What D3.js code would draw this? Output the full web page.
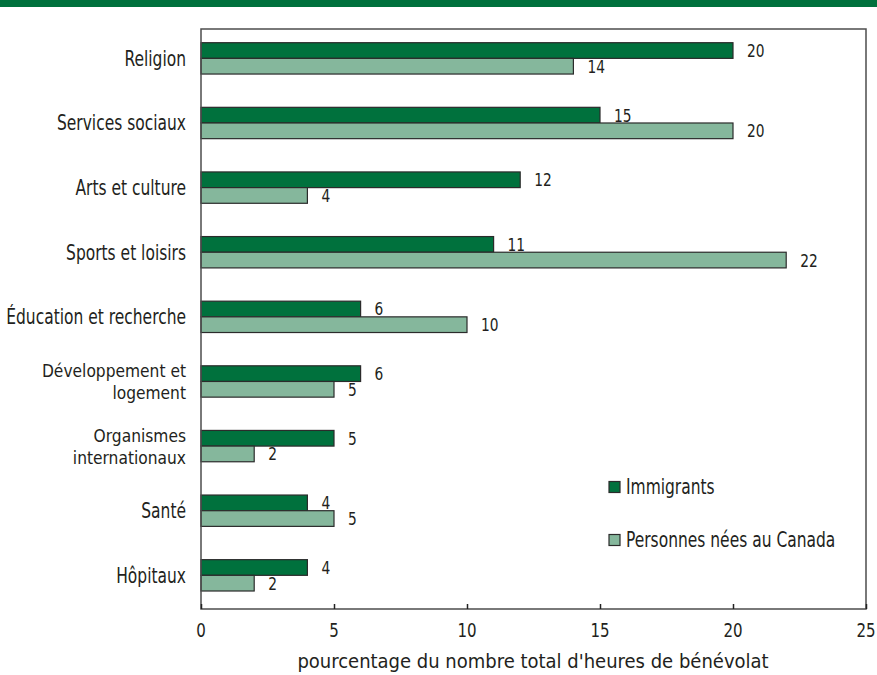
<!DOCTYPE html>
<html><head><meta charset="utf-8">
<script src="https://cdn.jsdelivr.net/npm/d3@7"></script>
<style>
body{margin:0;background:#fff;}
svg text{font-family:"DejaVu Sans Condensed","Liberation Sans Narrow",Roboto,sans-serif;fill:#231f20;}
</style></head>
<body>
<svg id="c" width="877" height="675"></svg>
<script>
const categories = [["Religion"],["Services sociaux"],["Arts et culture"],["Sports et loisirs"],["Éducation et recherche"],["Développement et","logement"],["Organismes","internationaux"],["Santé"],["Hôpitaux"]];
const immigrants = [20,15,12,11,6,6,5,4,4];
const nesCanada = [14,20,4,22,10,5,2,5,2];
const seriesNames = ["Immigrants","Personnes nées au Canada"];
const xTicks = [0,5,10,15,20,25];
const axisTitle = "pourcentage du nombre total d'heures de bénévolat";

(function(){
const colors = ["#00713d","#85b79c"];
const svg = d3.select("#c");
svg.append("rect").attr("x",0).attr("y",0).attr("width",877).attr("height",7).attr("fill","#00713d");

const pL=201, pR=866, pT=29, pB=609;
const x = d3.scaleLinear().domain([0,25]).range([pL,pR]);
const keys = categories.map(c=>c.join(" "));
const y = d3.scaleBand().domain(keys).range([42.7,591]).paddingInner(0.515).paddingOuter(0);
const bw = y.bandwidth()/2;

function txt(px, py, lines, size, anchor, sx, lh){
  lines = [].concat(lines);
  const t = svg.append("text")
    .attr("transform",`translate(${px},${py}) scale(${sx},1)`)
    .attr("text-anchor",anchor).attr("font-size",size);
  lines.forEach((l,i)=>{
    t.append("tspan").attr("x",0).attr("y",(i-(lines.length-1)/2)*(lh||0))
      .attr("dy","0.36em").text(l);
  });
  return t;
}

const data = keys.map((k,i)=>({k, vals:[immigrants[i], nesCanada[i]]}));
data.forEach(d=>{
  d.vals.forEach((v,j)=>{
    const yy = y(d.k)+j*bw;
    svg.append("rect").attr("x",x(0)).attr("y",yy).attr("width",x(v)-x(0)).attr("height",bw)
      .attr("fill",colors[j]).attr("stroke","#2b2b2b").attr("stroke-width",1.2);
    txt(x(v)+14, yy+bw/2, String(v), 18, "start", 0.85);
  });
});

svg.append("rect").attr("x",pL).attr("y",pT).attr("width",pR-pL).attr("height",pB-pT)
  .attr("fill","none").attr("stroke","#4d4d4d").attr("stroke-width",1.5);

const ax = svg.append("g").attr("transform",`translate(0,${pB})`)
  .call(d3.axisBottom(x).tickValues(xTicks).tickSizeInner(-5).tickSizeOuter(0).tickFormat(""));
ax.select(".domain").remove();
ax.selectAll("line").attr("stroke","#222").attr("stroke-width",1.5);
xTicks.forEach(t=>txt(x(t), pB+21, String(t), 19, "middle", 0.88));

txt(533, 661, axisTitle, 20, "middle", 1.0);

categories.forEach((c,i)=>{
  const cy = y(keys[i])+y.bandwidth()/2;
  const multi = c.length>1;
  txt(186, cy, c, multi?18.5:20.5, "end", multi?0.93:0.84, 21.5);
});

const legY=[487,540];
seriesNames.forEach((n,i)=>{
  svg.append("rect").attr("x",609).attr("y",legY[i]-5.5).attr("width",11).attr("height",11)
    .attr("fill",colors[i]).attr("stroke","#2b2b2b").attr("stroke-width",1.2);
  txt(626, legY[i], n, 20.5, "start", 0.84);
});
})();
</script>
</body></html>
